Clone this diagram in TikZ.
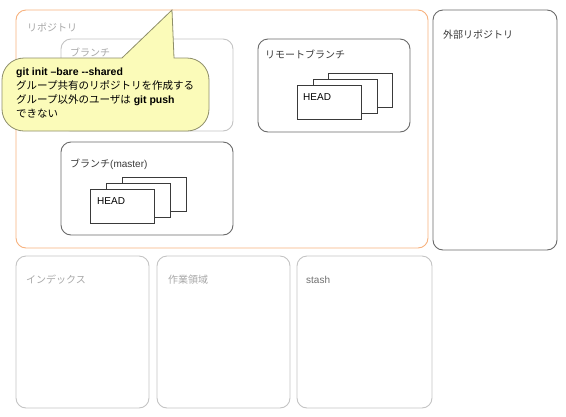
\documentclass[tikz,border=0pt]{standalone}
\usepackage{fontspec}
\setmainfont{Liberation Sans}
\newfontfamily\jp{Noto Sans CJK JP}
\definecolor{orangeline}{HTML}{F7B27E}
\definecolor{darkline}{HTML}{6A6A6A}
\definecolor{paleline}{HTML}{C4C4C4}
\definecolor{paletext}{HTML}{A8A8A8}
\definecolor{midtext}{HTML}{707070}
\definecolor{darktext}{HTML}{3A3A3A}
\definecolor{calloutfill}{HTML}{FBFBB9}
\definecolor{calloutline}{HTML}{8E8E6A}
\tikzset{
  panel/.style={draw, rounded corners=10pt, line width=0.9pt, inner sep=0pt, outer sep=0pt, anchor=north west, fill=white},
  sheet/.style={draw=darktext, line width=0.8pt, fill=white, inner sep=0pt, outer sep=0pt, anchor=north west, minimum width=64pt, minimum height=34pt},
  lbl/.style={anchor=base west, inner sep=0pt, font=\fontsize{10}{12}\selectfont},
}
\newcommand{\panelat}[6]{%
  \node[panel, #1, minimum width=#4pt, minimum height=#5pt] (#6) at (#2,#3) {};}
\begin{document}
\begin{tikzpicture}[x=1pt,y=-1pt]
\useasboundingbox (0,0) rectangle (566,416);

% repository and external repository
\panelat{draw=orangeline}{16}{10}{412}{238}{repo}
\node[lbl, text=paletext] (repolbl) at (27,31) {\jp リポジトリ};
\panelat{draw=darkline}{433}{10}{124}{240}{ext}
\node[lbl, text=darktext] (extlbl) at (443,38) {\jp 外部リポジトリ};

% faded branch box
\panelat{draw=paleline}{61}{39}{172}{92}{fbranch}
\node[lbl, text=paletext] (fbranchlbl) at (70,56) {\jp ブランチ};

% remote branches
\panelat{draw=darkline}{258}{39}{152}{93}{remote}
\node[lbl, text=darktext] (remotelbl) at (265,58) {\jp リモートブランチ};
\node[sheet] (r3) at (328,73) {};
\node[sheet] (r2) at (313,79) {};
\node[sheet] (r1) at (297,85) {};
\node[lbl, text=black] (rhead) at (303,100) {HEAD};

% master branch
\panelat{draw=darkline}{61}{142}{172}{93}{master}
\node[lbl, text=darktext] (masterlbl) at (70,167) {\jp ブランチ\rm(master)};
\node[sheet] (m3) at (122,177) {};
\node[sheet] (m2) at (106,183) {};
\node[sheet] (m1) at (90,189) {};
\node[lbl, text=black] (mhead) at (97,204) {HEAD};

% lower row
\panelat{draw=paleline}{16}{256}{133}{152}{index}
\node[lbl, text=paletext] (indexlbl) at (26,283) {\jp インデックス};
\panelat{draw=paleline}{157}{256}{133}{152}{work}
\node[lbl, text=paletext] (worklbl) at (168,283) {\jp 作業領域};
\panelat{draw=paleline}{297}{256}{135}{152}{stash}
\node[lbl, text=midtext] (stashlbl) at (306,283) {stash};

% callout balloon
\coordinate (tip) at (172,10);
\filldraw[fill=calloutfill, draw=calloutline, line width=0.8pt]
  (122,58) -- (tip) -- (174,58)
  {[rounded corners=22pt] -- (209,58) -- (209,131) -- (2,131) -- (2,58)} -- cycle;
\node[anchor=north west, inner sep=0pt, align=left, font=\fontsize{10.5}{14}\selectfont] (note) at (16,68)
  {\textbf{git init \textendash bare -{}-shared}\\
   {\jp グループ共有のリポジトリを作成する}\\
   {\jp グループ以外のユーザは} \textbf{git push}\\
   {\jp できない}};
\end{tikzpicture}
\end{document}
